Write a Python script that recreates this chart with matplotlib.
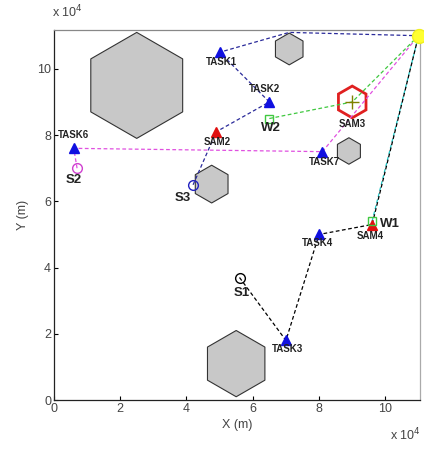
import numpy as np
import matplotlib
matplotlib.use("Agg")
import matplotlib.pyplot as plt
from matplotlib.patches import RegularPolygon
from matplotlib.ticker import FuncFormatter

# positions in metres
task_names = ["TASK1", "TASK2", "TASK3", "TASK4", "TASK6", "TASK7"]
task_x = [50000, 65000, 70000, 80000, 6000, 81000]
task_y = [105000, 90000, 18000, 50000, 76000, 75000]
task_lx = [50600, 63600, 70500, 79500, 6000, 81600]
task_ly = [102100, 94000, 15400, 47400, 80000, 71900]

sam_names = ["SAM2", "SAM4"]
sam_x = [49000, 96000]
sam_y = [81000, 53000]
sam_lx = [49400, 95500]
sam_ly = [78000, 49500]

w_names = ["W1", "W2"]
w_x = [96000, 65000]
w_y = [54000, 85000]
w_lx = [101500, 65400]
w_ly = [53200, 82200]

s_names = ["S1", "S2", "S3"]
s_x = [56000, 7000, 42000]
s_y = [37000, 70000, 65000]
s_lx = [56600, 6000, 39000]
s_ly = [32300, 66500, 61000]
s_colors = ["black", "#d040d0", "#2020c0"]

# obstacles (hexagons): centre x, centre y, radius
obs_x = [25000, 71000, 89000, 47600, 55000]
obs_y = [95000, 106000, 75200, 65200, 11000]
obs_r = [16000, 4800, 4000, 5700, 10000]

sam3 = (90000, 90000, 4800)
goal = (110000, 110000)

# routes
route_blue_x = [42000, 49000, 65000, 50000, 71000, 110000]
route_blue_y = [65000, 81000, 90000, 105000, 111000, 110000]
route_mag_x = [7000, 6000, 81000, 110000]
route_mag_y = [70000, 76000, 75000, 110000]
route_green_x = [65000, 90000, 110000]
route_green_y = [85000, 90000, 110000]
route_black_x = [56000, 70000, 80000, 96000, 110000]
route_black_y = [37000, 18000, 50000, 53000, 110000]
route_cyan_x = [96000, 110000]
route_cyan_y = [54000, 110000]

plt.rcParams['font.family'] = ['Liberation Sans', 'DejaVu Sans']
fig = plt.figure(figsize=(4.24, 4.49), dpi=100)
ax = fig.add_axes([0.127, 0.109, 0.864, 0.824])

for cx, cy, r in zip(obs_x, obs_y, obs_r):
    ax.add_patch(RegularPolygon((cx, cy), 6, radius=r, orientation=0,
                                facecolor="#c8c8c8", edgecolor="#333333", lw=0.8, zorder=1))
ax.add_patch(RegularPolygon((sam3[0], sam3[1]), 6, radius=sam3[2], orientation=0,
                            facecolor="white", edgecolor="#e02020", lw=2, zorder=2))
ax.plot(sam3[0], sam3[1], marker="+", color="#808000", ms=10, mew=1, zorder=3)

dash = (0, (3, 2))
ax.plot(route_blue_x, route_blue_y, color="#2a2a9a", lw=0.9, ls=dash, zorder=2)
ax.plot(route_mag_x, route_mag_y, color="#e050e0", lw=0.9, ls=dash, zorder=2)
ax.plot(route_green_x, route_green_y, color="#40c840", lw=0.9, ls=dash, zorder=2)
ax.plot(route_cyan_x, route_cyan_y, color="#20c8c8", lw=0.9, ls=dash, zorder=2)
ax.plot(route_black_x, route_black_y, color="black", lw=0.9, ls=dash, zorder=2)

ax.plot(task_x, task_y, "^", color="#1010e0", ms=7, ls="none", zorder=4)
ax.plot(sam_x, sam_y, "^", color="#e01010", ms=7, ls="none", zorder=4)
ax.plot(w_x, w_y, "s", mfc="none", mec="#40c840", ms=6, ls="none", zorder=4)
for x, y, c in zip(s_x, s_y, s_colors):
    ax.plot(x, y, "o", mfc="none", mec=c, ms=7, zorder=4)
ax.plot(goal[0], goal[1], "o", color="#ffff30", ms=10, mec="#f0f020", zorder=5, clip_on=False)

for n, x, y in zip(task_names, task_lx, task_ly):
    ax.text(x, y, n, fontsize=7, fontweight="bold", ha="center", va="center", color="#222222", zorder=6)
for n, x, y in zip(sam_names, sam_lx, sam_ly):
    ax.text(x, y, n, fontsize=7, fontweight="bold", ha="center", va="center", color="#222222", zorder=6)
ax.text(sam3[0], 83400, "SAM3", fontsize=7, fontweight="bold", ha="center", va="center", color="#222222", zorder=6)
for n, x, y in zip(w_names, w_lx, w_ly):
    ax.text(x, y, n, fontsize=9.5, fontweight="bold", ha="center", va="center", color="#222222", zorder=6)
for n, x, y in zip(s_names, s_lx, s_ly):
    ax.text(x, y, n, fontsize=9.5, fontweight="bold", ha="center", va="center", color="#222222", zorder=6)

ax.set_xlim(0, 110500)
ax.set_ylim(0, 111700)
ticks = np.arange(0, 110000, 20000)
ax.set_xticks(ticks)
ax.set_yticks(ticks)
fmt = FuncFormatter(lambda v, p: "%d" % round(v / 1e4))
ax.xaxis.set_major_formatter(fmt)
ax.yaxis.set_major_formatter(fmt)
ax.tick_params(direction="in", length=3, labelsize=9, labelcolor="#444444", pad=2)
for s in ax.spines.values():
    s.set_linewidth(0.9)
    s.set_color("#222222")
ax.spines["top"].set_color("#888888")
ax.spines["right"].set_color("#aaaaaa")

ax.set_xlabel("X (m)", fontsize=9, color="#444444", labelpad=3)
ax.set_ylabel("Y (m)", fontsize=9, color="#444444", labelpad=6)
fig.text(0.16, 0.955, r"x 10$^4$", fontsize=9, color="#444444", ha="center", va="bottom")
fig.text(0.955, 0.012, r"x 10$^4$", fontsize=9, color="#444444", ha="center", va="bottom")

fig.savefig("out.png", dpi=100)
